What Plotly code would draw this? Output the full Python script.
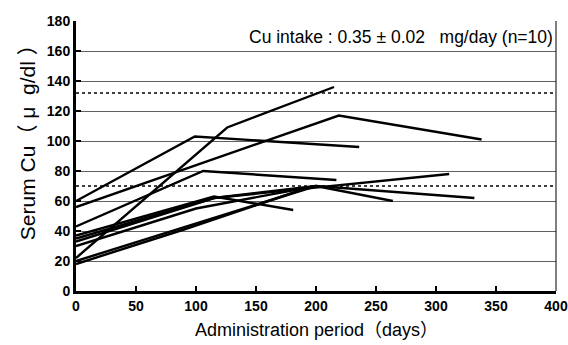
import plotly.graph_objects as go

# Individual subjects: days, serum Cu (µg/dl)
subj_days = [
    [0, 126, 215],
    [0, 99, 236],
    [0, 219, 338],
    [0, 106, 217],
    [0, 115, 311],
    [0, 115, 181],
    [0, 200, 264],
    [0, 115, 200, 332],
    [0, 100, 200],
    [0, 90, 190],
]
subj_cu = [
    [22, 109, 136],
    [60, 103, 96],
    [56, 117, 101],
    [43, 80, 74],
    [33, 62, 78],
    [37, 63, 54],
    [20, 70, 60],
    [35, 62, 70, 62],
    [30, 55, 70],
    [18, 41, 68],
]
ref_upper = 132
ref_lower = 70
x_ticks = [0, 50, 100, 150, 200, 250, 300, 350, 400]
y_ticks = [0, 20, 40, 60, 80, 100, 120, 140, 160, 180]

fig = go.Figure()
for d, c in zip(subj_days, subj_cu):
    fig.add_trace(go.Scatter(x=d, y=c, mode="lines",
                             line=dict(color="black", width=2.4),
                             showlegend=False, hoverinfo="skip"))

for v in (ref_upper, ref_lower):
    fig.add_shape(type="line", xref="paper", x0=0, x1=1, yref="y", y0=v, y1=v,
                  line=dict(color="black", width=1.5, dash="dot"))

# right frame line
fig.add_shape(type="line", xref="paper", x0=1, x1=1, yref="paper", y0=0, y1=1,
              line=dict(color="black", width=1))

fig.add_annotation(xref="paper", yref="paper", x=0.998, y=0.985,
                   xanchor="right", yanchor="top", showarrow=False,
                   text="Cu intake : 0.35 ± 0.02   mg/day (n=10)",
                   font=dict(family="Liberation Sans, Arial", size=17.5, color="black"))

# axis titles placed explicitly
fig.add_annotation(xref="paper", yref="paper", x=0.5, y=-0.145,
                   xanchor="center", yanchor="middle", showarrow=False,
                   text="Administration period（days）",
                   font=dict(family="Liberation Sans, Noto Sans CJK JP", size=18, color="black"))
fig.add_annotation(xref="paper", yref="paper", x=-0.102, y=0.57,
                   xanchor="center", yanchor="middle", showarrow=False, textangle=-90,
                   text="Serum Cu（ μ  g/dl ）",
                   font=dict(family="Liberation Sans, Noto Sans CJK JP", size=21, color="black"))

tickfont = dict(family="Liberation Sans, Arial", size=14, color="black", weight="bold")
fig.update_xaxes(range=[0, 400], tickvals=x_ticks, automargin=False,
                 ticks="inside", ticklen=5, tickwidth=2, tickcolor="black",
                 showline=True, linecolor="black", linewidth=3,
                 showgrid=False, zeroline=False, tickfont=tickfont)
fig.update_yaxes(range=[0, 180], tickvals=y_ticks, automargin=False,
                 ticks="inside", ticklen=5, tickwidth=2, tickcolor="black",
                 showline=True, linecolor="black", linewidth=3,
                 showgrid=True, gridcolor="#606060", gridwidth=1, zeroline=False,
                 tickfont=tickfont)

fig.update_layout(width=568, height=345,
                  margin=dict(l=76, r=12, t=21, b=54),
                  plot_bgcolor="white", paper_bgcolor="white")

# remove the default 8px page margin so the figure fills the window exactly
fig.write_html("out.html",
               config={"displayModeBar": False},
               post_script="document.body.style.margin='0';document.body.style.overflow='hidden';")
